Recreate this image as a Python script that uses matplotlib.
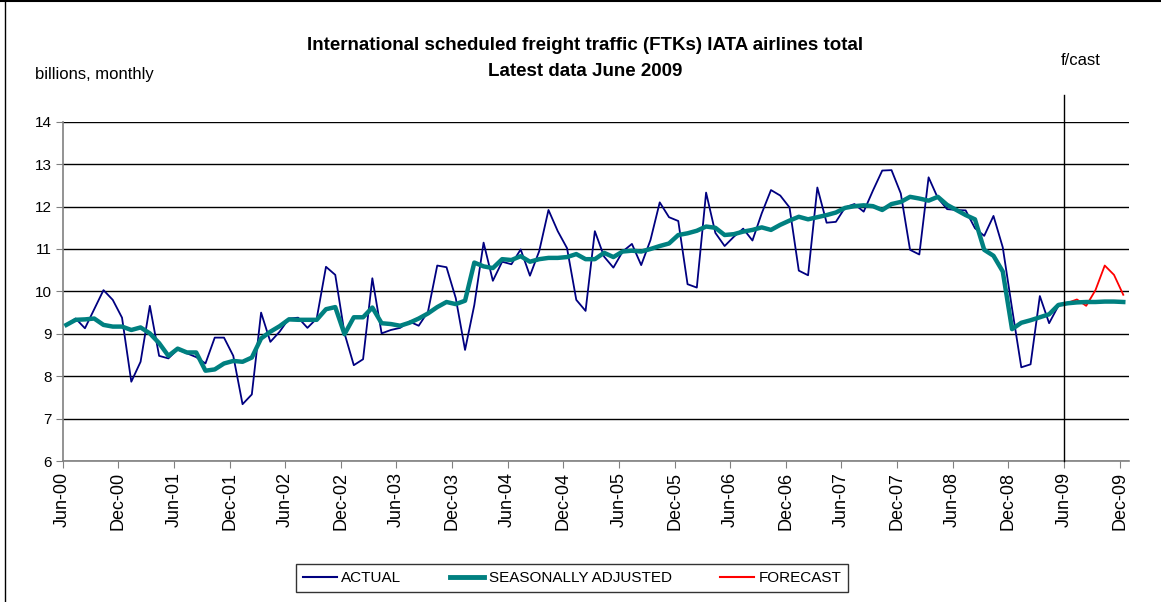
import matplotlib
matplotlib.use("Agg")
import matplotlib.pyplot as plt
from matplotlib.lines import Line2D

plt.rcParams['font.family'] = ['Liberation Sans', 'DejaVu Sans']

# Month labels for ticks (every 6 months, from Jun-00)
tick_labels = ["Jun-00", "Dec-00", "Jun-01", "Dec-01", "Jun-02", "Dec-02", "Jun-03",
               "Dec-03", "Jun-04", "Dec-04", "Jun-05", "Dec-05", "Jun-06", "Dec-06",
               "Jun-07", "Dec-07", "Jun-08", "Dec-08", "Jun-09", "Dec-09"]

# ACTUAL: Jun-00 .. May-09 (billions)
actual = [9.21, 9.36, 9.13, 9.58, 10.03, 9.80, 9.38, 7.87, 8.34, 9.66,
          8.48, 8.42, 8.63, 8.54, 8.45, 8.30, 8.91, 8.91, 8.48, 7.34,
          7.57, 9.50, 8.81, 9.05, 9.36, 9.38, 9.14, 9.36, 10.58, 10.39,
          9.01, 8.26, 8.40, 10.31, 9.01, 9.09, 9.14, 9.29, 9.19, 9.52,
          10.61, 10.57, 9.84, 8.62, 9.68, 11.15, 10.25, 10.70, 10.64, 10.99,
          10.37, 10.95, 11.92, 11.42, 11.02, 9.80, 9.54, 11.42, 10.82, 10.56,
          10.94, 11.12, 10.62, 11.21, 12.10, 11.75, 11.66, 10.17, 10.09, 12.33,
          11.38, 11.07, 11.29, 11.48, 11.20, 11.84, 12.39, 12.26, 11.98, 10.49,
          10.38, 12.45, 11.62, 11.64, 11.98, 12.06, 11.88, 12.38, 12.85, 12.86,
          12.31, 10.98, 10.87, 12.69, 12.20, 11.94, 11.92, 11.91, 11.49, 11.31,
          11.78, 11.04, 9.60, 8.21, 8.28, 9.89, 9.25, 9.66]

# SEASONALLY ADJUSTED: Jun-00 .. Dec-09
seas_adj = [9.21, 9.33, 9.34, 9.36, 9.21, 9.17, 9.17, 9.09, 9.15, 9.01,
            8.78, 8.48, 8.65, 8.56, 8.56, 8.13, 8.16, 8.30, 8.36, 8.34,
            8.44, 8.89, 9.05, 9.18, 9.34, 9.33, 9.33, 9.33, 9.58, 9.63,
            8.99, 9.39, 9.39, 9.62, 9.25, 9.23, 9.19, 9.26, 9.36, 9.48,
            9.63, 9.75, 9.70, 9.78, 10.68, 10.59, 10.55, 10.76, 10.74, 10.83,
            10.70, 10.76, 10.79, 10.79, 10.81, 10.88, 10.76, 10.76, 10.91, 10.81,
            10.94, 10.96, 10.94, 11.00, 11.07, 11.13, 11.33, 11.37, 11.43, 11.53,
            11.50, 11.33, 11.35, 11.41, 11.45, 11.51, 11.45, 11.57, 11.67, 11.76,
            11.70, 11.75, 11.80, 11.86, 11.97, 12.01, 12.03, 12.01, 11.92, 12.06,
            12.11, 12.23, 12.19, 12.14, 12.23, 12.04, 11.92, 11.80, 11.70, 10.98,
            10.84, 10.47, 9.11, 9.26, 9.32, 9.39, 9.46, 9.68, 9.72, 9.74,
            9.75, 9.75, 9.76, 9.76, 9.75]

# FORECAST: May-09 .. Dec-09
forecast = [9.66, 9.73, 9.81, 9.66, 10.03, 10.61, 10.39, 9.92]

point_offset = 0.4  # points sit slightly after the month tick
x_actual = [i + point_offset for i in range(len(actual))]
x_sa = [i + point_offset for i in range(len(seas_adj))]
start_fc = len(actual) - 1
x_fc = [start_fc + i + point_offset for i in range(len(forecast))]

fig = plt.figure(figsize=(11.61, 6.02), dpi=100)
ax = fig.add_axes([0.054, 0.2342, 0.9183, 0.5635])

ax.set_xlim(0, 115)
ax.set_ylim(6, 14)
ax.set_yticks(range(6, 15))
ax.yaxis.grid(True, color='black', linewidth=1.0)
ax.set_axisbelow(True)

ax.plot(x_actual, actual, color='#000080', linewidth=1.3, zorder=3)
ax.plot(x_sa, seas_adj, color='#008080', linewidth=3.2, zorder=4)
ax.plot(x_fc, forecast, color='#FF0000', linewidth=1.3, zorder=3)

# f/cast vertical divider at Jun-09
ax.plot([108, 108], [6, 14.62], color='black', linewidth=1.0, clip_on=False, zorder=5)

ax.set_xticks(range(0, 115, 6))
ax.set_xticklabels(tick_labels, rotation=90, fontsize=13)
ax.tick_params(axis='x', direction='out', length=5, color='#808080', pad=3)
ax.tick_params(axis='y', direction='out', length=5, color='#808080', labelsize=11, pad=3)

for s in ['top', 'right']:
    ax.spines[s].set_visible(False)
for s in ['left', 'bottom']:
    ax.spines[s].set_color('#808080')
    ax.spines[s].set_linewidth(1.2)

fig.text(0.504, 0.925, "International scheduled freight traffic (FTKs) IATA airlines total",
         ha='center', va='center', fontsize=13.5, fontweight='bold')
fig.text(0.504, 0.882, "Latest data June 2009",
         ha='center', va='center', fontsize=13.5, fontweight='bold')
fig.text(0.030, 0.876, "billions, monthly", ha='left', va='center', fontsize=12)
fig.text(0.931, 0.900, "f/cast", ha='center', va='center', fontsize=12)

handles = [Line2D([], [], color='#000080', linewidth=1.5),
           Line2D([], [], color='#008080', linewidth=3.5),
           Line2D([], [], color='#FF0000', linewidth=1.5)]
leg = fig.legend(handles, ["ACTUAL", "SEASONALLY ADJUSTED", "FORECAST"],
                 loc='center', bbox_to_anchor=(0.493, 0.04), ncol=3, fontsize=11,
                 frameon=True, fancybox=False, edgecolor='black', handlelength=2.2,
                 columnspacing=3.2, handletextpad=0.3, borderpad=0.45)
leg.get_frame().set_linewidth(1.0)

# chart border (top and left visible)
fig.add_artist(Line2D([0, 1], [0.998, 0.998], transform=fig.transFigure, color='black', linewidth=1.5))
fig.add_artist(Line2D([0.004, 0.004], [0, 1], transform=fig.transFigure, color='black', linewidth=1.0))

fig.savefig("out.png", dpi=100)
